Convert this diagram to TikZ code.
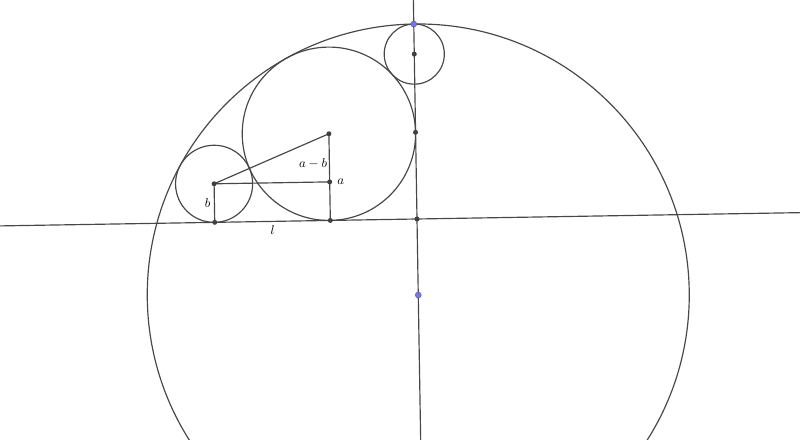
\documentclass[tikz,border=0pt]{standalone}
\usetikzlibrary{positioning, calc}

\begin{document}
\begin{tikzpicture}[
    x=0.3mm, y=0.3mm,
    % --- Styles ---
    curve/.style={draw=black!72, line width=1pt},
    pt/.style={circle, fill=black!75, inner sep=0pt, minimum size=1.5mm},
    freept/.style={circle, draw=black!60, fill=blue!55!white, line width=0.4pt, inner sep=0pt, minimum size=1.8mm},
    lbl/.style={font=\fontsize{11}{13}\selectfont, inner sep=1pt}
  ]
  \useasboundingbox (0,0) rectangle (800,440);
  \clip (0,0) rectangle (800,440);

  % frame of the line l (origin where l meets the perpendicular)
  \begin{scope}[shift={(417,221)}, rotate=0.95]
    % --- Points ---
    \coordinate (lL) at (-460,0);
    \coordinate (lR) at (420,0);
    \coordinate (vT) at (0,240);
    \coordinate (vB) at (0,-240);
    \coordinate (O) at (0,0);
    \coordinate (C) at (0,-76);          % centre of the big circle
    \coordinate (T) at (0,195);          % top of the big circle
    \coordinate (S) at (0,164.93);       % centre of the top circle
    \coordinate (Q) at (0,86.68);        % touching point on the perpendicular
    \coordinate (M) at (-86.68,86.68);   % centre of radius a
    \coordinate (MF) at (-86.68,0);
    \coordinate (MB) at (-86.68,38.55);
    \coordinate (N) at (-202.3,38.55);   % centre of radius b
    \coordinate (NF) at (-202.3,0);

    % --- Lines ---
    \draw[curve] (lL) -- (lR);
    \draw[curve] (vB) -- (vT);

    % --- Circles ---
    \draw[curve] (C) circle[radius=271];
    \draw[curve] (M) circle[radius=86.68];
    \draw[curve] (N) circle[radius=38.55];
    \draw[curve] (S) circle[radius=30.07];

    % --- Right triangle ---
    \draw[curve] (N) -- (M);
    \draw[curve] (N) -- (MB);
    \draw[curve] (MF) -- (M);
    \draw[curve] (NF) -- node[lbl, left=2pt] {$b$} (N);
    \path (NF) -- node[lbl, below=2pt] {$l$} (MF);
    \node[lbl] (amb) at (-103,57) {$a-b$};

    % --- Dots ---
    \node[pt] (dO) at (O) {};
    \node[pt] (dS) at (S) {};
    \node[pt] (dQ) at (Q) {};
    \node[pt] (dM) at (M) {};
    \node[pt] (dMF) at (MF) {};
    \node[pt] (dMB) at (MB) {};
    \node[lbl, right=3pt of dMB] (la) {$a$};
    \node[pt] (dN) at (N) {};
    \node[pt] (dNF) at (NF) {};
    \node[freept] (dC) at (C) {};
    \node[freept] (dT) at (T) {};
  \end{scope}
\end{tikzpicture}
\end{document}
